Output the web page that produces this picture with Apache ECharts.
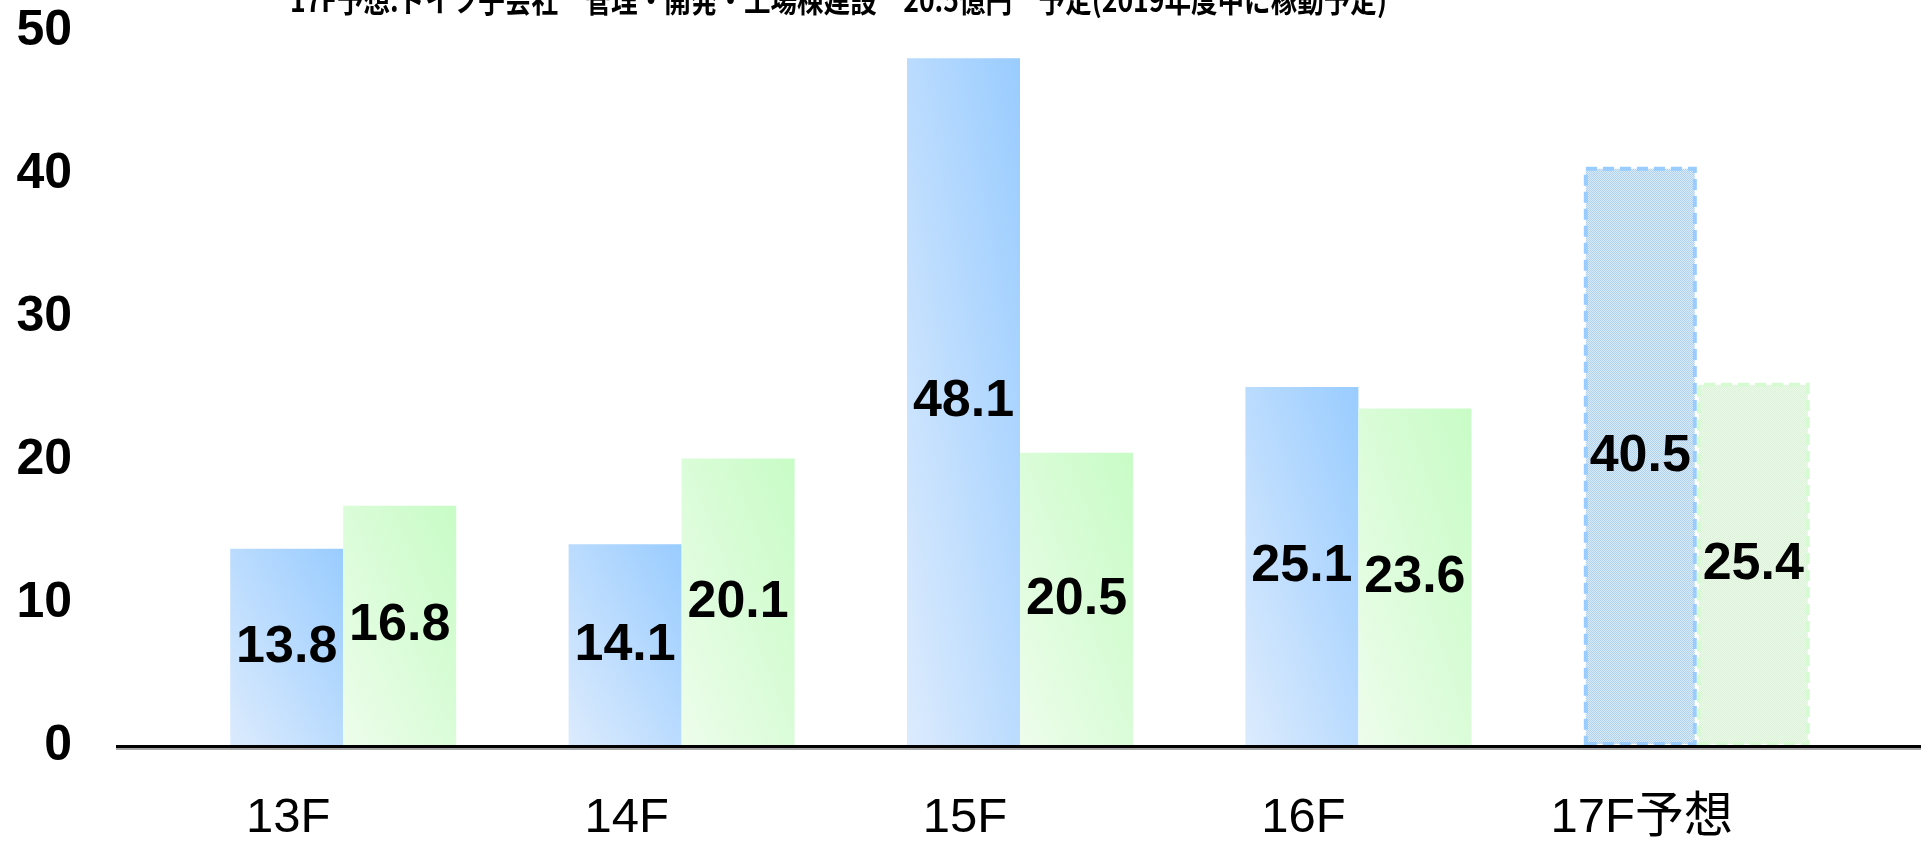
<!DOCTYPE html>
<html>
<head>
<meta charset="utf-8">
<script src="https://cdn.jsdelivr.net/npm/echarts@6/dist/echarts.min.js"></script>
<style>
html,body{margin:0;padding:0;background:#fff;}
#chart{width:1921px;height:850px;}
</style>
</head>
<body>
<div id="chart"></div>
<script>
// ---- data ----
var categories = ['13F', '14F', '15F', '16F', '17F予想'];
var seriesA = [13.8, 14.1, 48.1, 25.1, 40.5];
var seriesB = [16.8, 20.1, 20.5, 23.6, 25.4];
var forecastIndex = 4;
var yTicks = [0, 10, 20, 30, 40, 50];
var noteText = '17F予想:ドイツ子会社　管理・開発・工場棟建設　20.5億円　予定(2019年度中に稼動予定)';

// ---- styles ----
var BAR_W = 113;
function makePattern(c1, c2) {
  var cv = document.createElement('canvas');
  cv.width = 4; cv.height = 4;
  var ctx = cv.getContext('2d');
  ctx.fillStyle = c1; ctx.fillRect(0, 0, 4, 4);
  ctx.fillStyle = c2;
  for (var y = 0; y < 4; y++) for (var x = 0; x < 4; x++) {
    if ((x + y) % 2 === 0) ctx.fillRect(x, y, 1, 1);
  }
  return cv;
}
// gradient whose isolines follow the bounding-box diagonal (shape-scaled gradient)
function diagGrad(h, c0, c1) {
  var w = BAR_W;
  var L2 = w * w + h * h;
  return new echarts.graphic.LinearGradient(0, 1, 2 * h * h / L2, 1 - 2 * w * w / L2, [
    {offset: 0, color: c0}, {offset: 1, color: c1}]);
}
var bluePat = {image: makePattern('#d8ebfb', '#b2d1ee'), repeat: 'repeat'};
var greenPat = {image: makePattern('#ecfae9', '#dcf2d8'), repeat: 'repeat'};

var labelFont = 'Liberation Sans, Arial, Noto Sans CJK JP, sans-serif';

var chart = echarts.init(document.getElementById('chart'));

function buildData(vals, c0, c1, pat, border) {
  return vals.map(function (v, i) {
    if (i === forecastIndex) {
      return {
        value: v,
        itemStyle: {color: pat, borderColor: border, borderWidth: 4, borderType: [11, 6]}
      };
    }
    var h = 100;
    try {
      var p0 = chart.convertToPixel({yAxisIndex: 0}, 0);
      var p1 = chart.convertToPixel({yAxisIndex: 0}, v);
      h = Math.abs(p0 - p1);
    } catch (e) {}
    return {value: v, itemStyle: {color: diagGrad(h, c0, c1)}};
  });
}

function makeOption() {
  return {
    animation: false,
    backgroundColor: '#fff',
    grid: {left: 174, right: 55, top: 31, bottom: 104},
    xAxis: {
      type: 'category',
      data: categories,
      axisLine: {show: false},
      axisTick: {show: false},
      axisLabel: {
        fontSize: 49, color: '#000', fontFamily: labelFont,
        margin: 48, padding: [0, 110, 0, 0]
      }
    },
    yAxis: {
      type: 'value',
      min: yTicks[0], max: yTicks[yTicks.length - 1], interval: 10,
      splitLine: {show: false},
      axisLine: {show: false},
      axisTick: {show: false},
      axisLabel: {
        fontSize: 50, fontWeight: 'bold', color: '#000', fontFamily: labelFont, margin: 102
      }
    },
    series: [
      {
        type: 'bar', barWidth: BAR_W, barGap: '0%',
        data: buildData(seriesA, '#dcebfd', '#99ccff', bluePat, '#99ccff'),
        label: {show: true, position: 'inside', fontSize: 52, fontWeight: 'bold', color: '#000', fontFamily: labelFont}
      },
      {
        type: 'bar', barWidth: BAR_W, barGap: '0%',
        data: buildData(seriesB, '#edfdeb', '#c8fcc6', greenPat, '#d6fad2'),
        label: {show: true, position: 'inside', fontSize: 52, fontWeight: 'bold', color: '#000', fontFamily: labelFont}
      }
    ],
    graphic: [{
      type: 'text', z: 100, x: 290, y: 0, scaleX: 0.83,
      style: {
        text: noteText, fontSize: 32, fontWeight: 'bold', fill: '#000',
        fontFamily: 'Noto Sans CJK JP, sans-serif', verticalAlign: 'middle', align: 'left'
      }
    }, {
      type: 'line', z: 100,
      shape: {x1: 116, y1: 746.5, x2: 1921, y2: 746.5},
      style: {stroke: '#000', lineWidth: 3, shadowColor: 'rgba(0,0,0,0.35)', shadowOffsetY: 2, shadowBlur: 0}
    }]
  };
}
chart.setOption(makeOption());
chart.setOption(makeOption(), true);
</script>
</body>
</html>
